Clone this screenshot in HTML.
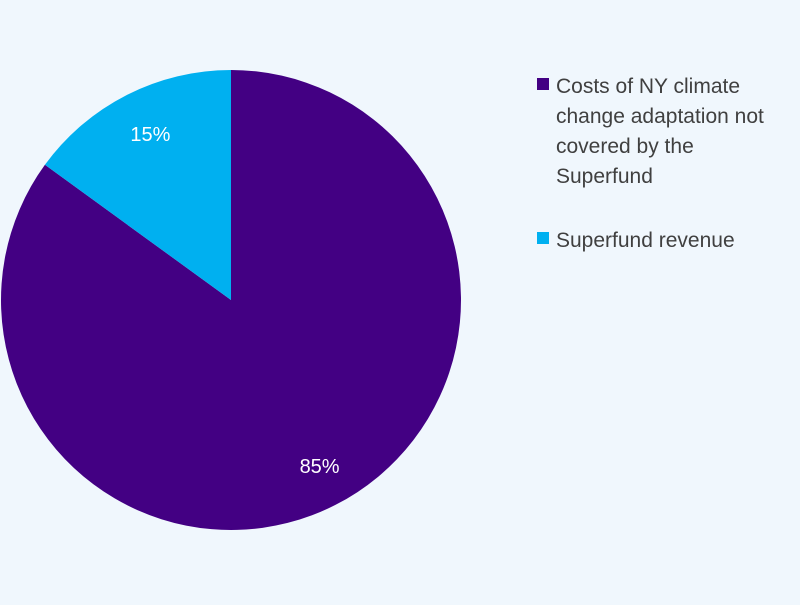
<!DOCTYPE html>
<html><head><meta charset="utf-8"><style>
html,body{margin:0;padding:0;background:#f0f7fd;}
body{width:800px;height:600px;overflow:hidden;font-family:"Liberation Sans",sans-serif;}
</style></head><body>
<svg id="chart" width="800" height="600" xmlns="http://www.w3.org/2000/svg">
<rect width="800" height="600" fill="#f0f7fd"/>
<g id="slices"></g>
<g id="legend"></g>
</svg>
<script>
const categories = ["Costs of NY climate change adaptation not covered by the Superfund", "Superfund revenue"];
const values = [85, 15];
const valueLabels = ["85%", "15%"];
const legendLines = [["Costs of NY climate","change adaptation not","covered by the","Superfund"],["Superfund revenue"]];
const colors = ["#430083", "#00b0f0"];
const NS = "http://www.w3.org/2000/svg";
const cx = 231, cy = 300, r = 230;
const total = values.reduce((a,b)=>a+b,0);
const g = document.getElementById('slices');
function pt(frac, rad){const a = frac*2*Math.PI; return [cx + rad*Math.sin(a), cy - rad*Math.cos(a)];}
let acc = 0;
values.forEach((v,i)=>{
  const f0 = acc/total, f1 = (acc+v)/total; acc += v;
  const [x0,y0] = pt(f0,r), [x1,y1] = pt(f1,r);
  const large = (f1-f0) > 0.5 ? 1 : 0;
  const p = document.createElementNS(NS,'path');
  p.setAttribute('d',`M${cx},${cy} L${x0},${y0} A${r},${r} 0 ${large} 1 ${x1},${y1} Z`);
  p.setAttribute('fill',colors[i]);
  
  
  g.appendChild(p);
  const [lx,ly] = pt((f0+f1)/2, r*0.81);
  const t = document.createElementNS(NS,'text');
  t.setAttribute('x',lx+4); t.setAttribute('y',ly+7);
  t.setAttribute('text-anchor','middle'); t.setAttribute('fill','#fff');
  t.setAttribute('font-size','20');
  t.textContent = valueLabels[i];
  
  
  g.appendChild(t);
});
const lg = document.getElementById('legend');
let y = 86;
legendLines.forEach((lines,i)=>{
  const s = document.createElementNS(NS,'rect');
  s.setAttribute('x',537); s.setAttribute('y',y-8); s.setAttribute('width',12); s.setAttribute('height',12);
  s.setAttribute('fill',colors[i]);
  
  
  lg.appendChild(s);
  lines.forEach((ln,j)=>{
    const t = document.createElementNS(NS,'text');
    t.setAttribute('x',556); t.setAttribute('y',y+7+j*30);
    t.setAttribute('font-size','21'); t.setAttribute('fill','#404040');
    t.textContent = ln;
    
    
    lg.appendChild(t);
  });
  y += lines.length*30 + 34;
});
</script>
</body></html>
